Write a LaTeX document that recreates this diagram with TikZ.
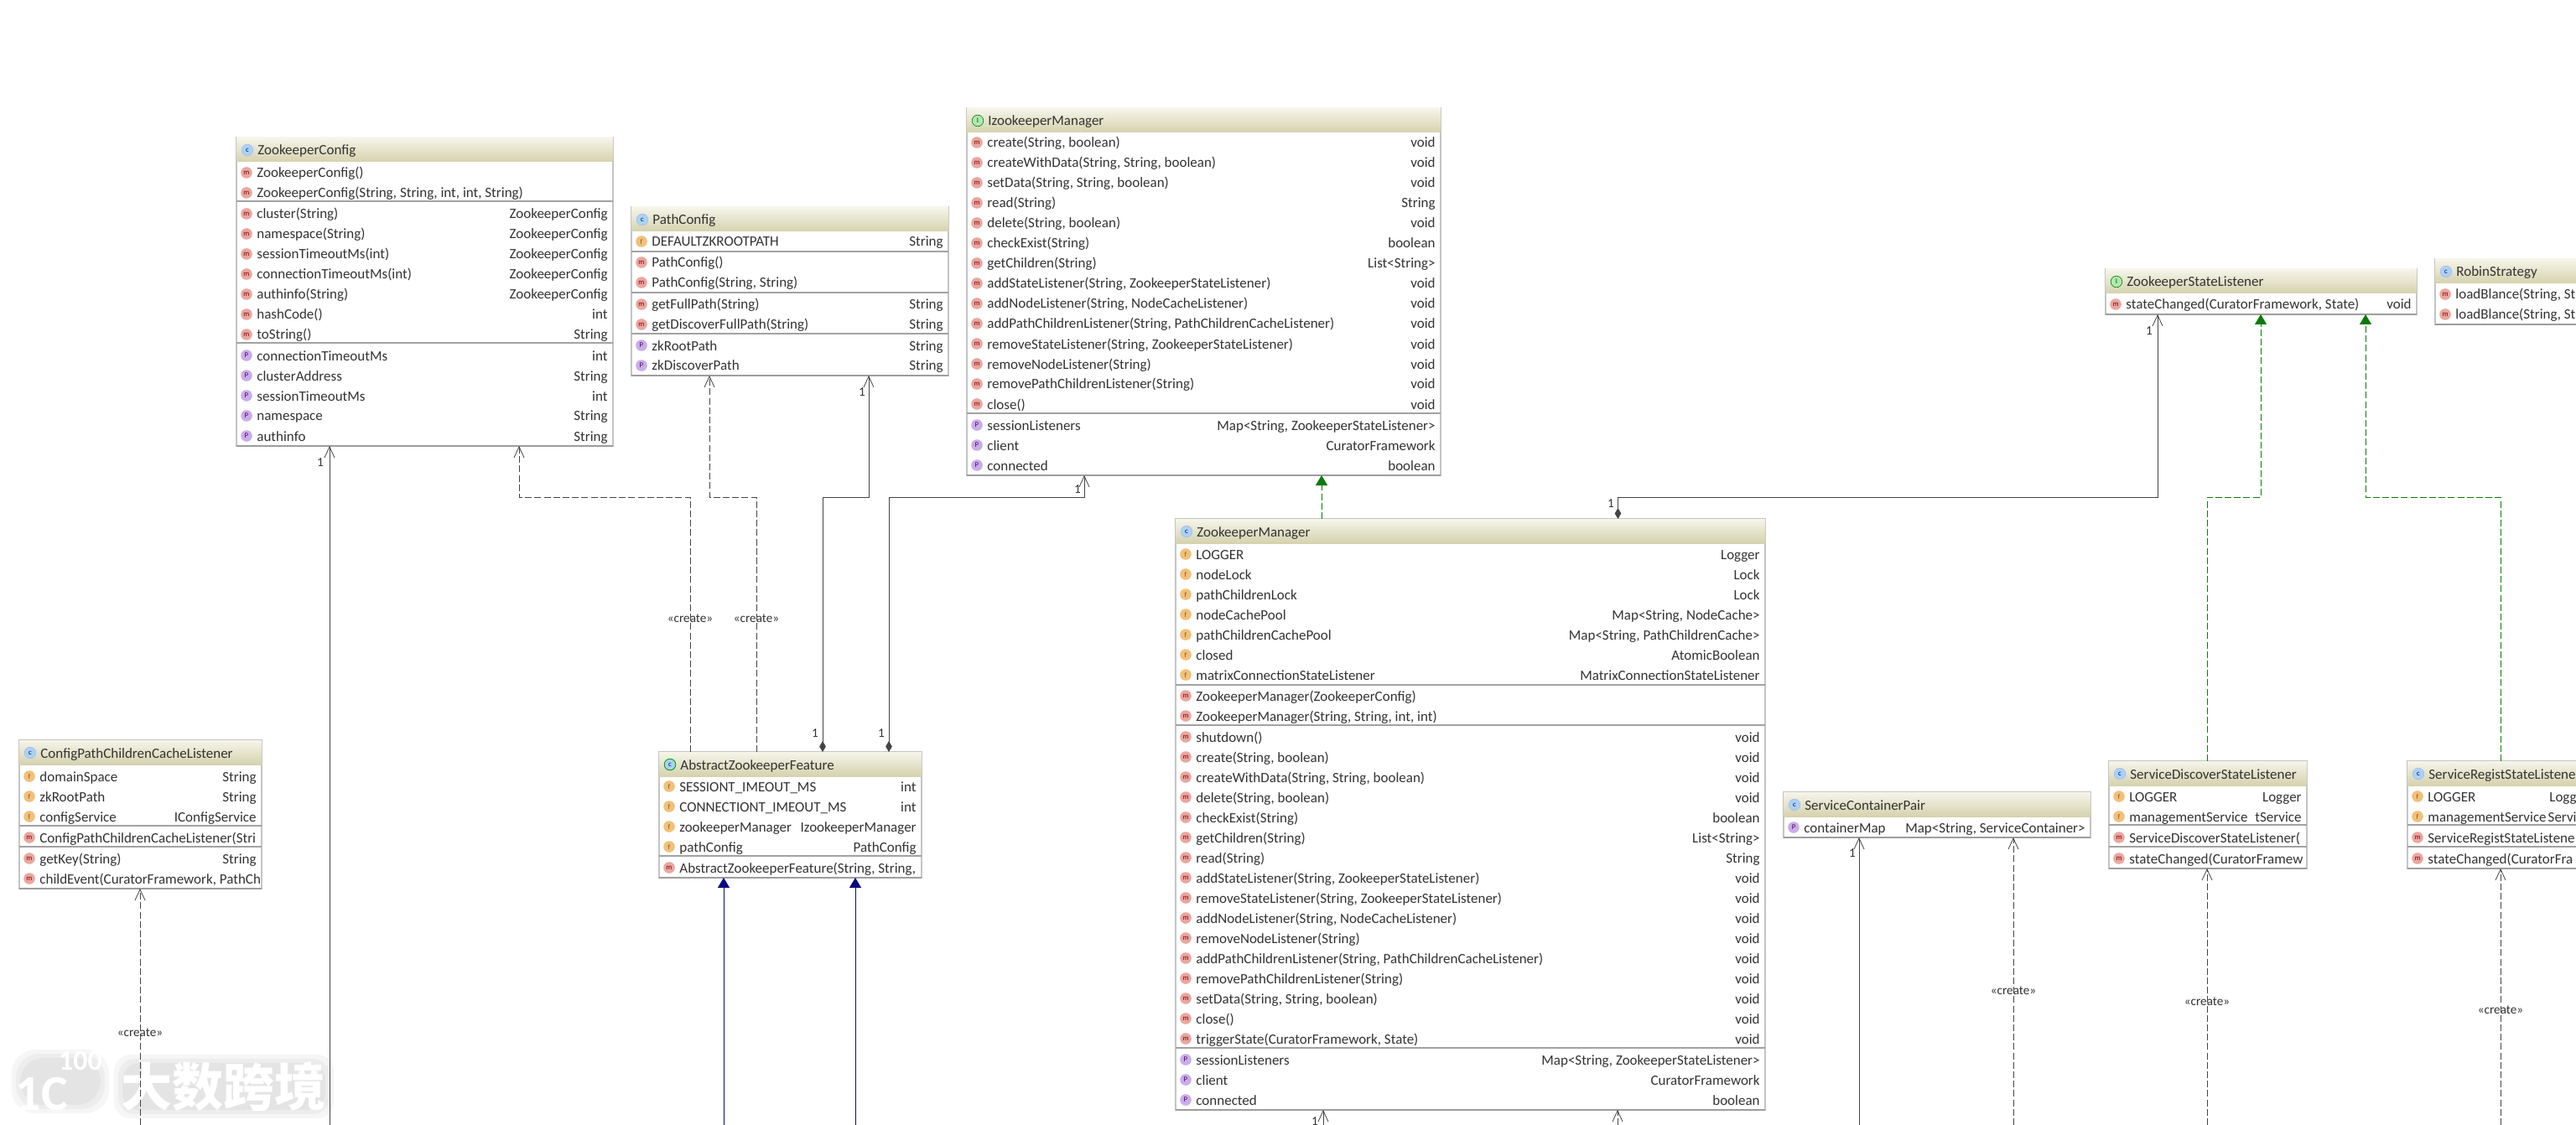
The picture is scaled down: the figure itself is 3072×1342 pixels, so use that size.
\documentclass[tikz,border=0pt]{standalone}
\usepackage{fontspec}
\setmainfont{Carlito}
\newfontfamily\cjkfont{Noto Sans CJK SC}
\usepackage{tikz}
\usetikzlibrary{arrows.meta,positioning,calc}
\definecolor{boxline}{HTML}{C4C4C4}
\definecolor{sepline}{HTML}{A2A2A2}
\definecolor{headtop}{HTML}{F6F5EA}
\definecolor{headbot}{HTML}{D5D2AE}
\definecolor{textgrey}{HTML}{333333}
\definecolor{linegrey}{HTML}{444444}
\definecolor{implgreen}{HTML}{0B7A0B}
\definecolor{extblue}{HTML}{0A0A80}
\definecolor{iconred}{HTML}{E9A7A0}
\definecolor{iconorange}{HTML}{F2C078}
\definecolor{iconpurple}{HTML}{C9ADEB}
\definecolor{iconblue}{HTML}{A8D4F0}
\definecolor{icongreen}{HTML}{B0E8B0}

% a class box with its title bar: name, x,y, w, h, icon style, letter, title
\newcommand{\umlclass}[8]{%
	\node[umlbox,minimum width=#4*0.5pt,minimum height=#5*0.5pt] (#1) at (#2,#3) {};
	\draw[umlshade] (#1.south west) -- (#1.south east);
	\node[umlhead,minimum width=#4*0.5pt] (#1head) at (#1.north west) {};
	\node[umlicon,#6] (#1icon) at ($(#1.north west)+(13,15)$) {#7};
	\node[umltitle] (#1title) at ($(#1.north west)+(25,21)$) {#8};
}
% one compartment: box, icon letter, offset of first row, rows
\newcommand{\umlrows}[4]{%
	\begin{scope}
		\clip (#1.north west) rectangle (#1.south east);
		\foreach \lab/\typ [count=\n from 0] in {#4}{
			\node[umlicon,icon#2] (#1#2#3i\n) at ($(#1.north west)+(12,#3+24*\n)$) {#2};
			\node[umlname] (#1#2#3n\n) at ($(#1.north west)+(24,#3+6+24*\n)$) {\lab};
			\node[umltype] (#1#2#3t\n) at ($(#1.north east)+(-6,#3+6+24*\n)$) {\typ};
		}
	\end{scope}
}
\newcommand{\umlsep}[2]{\draw[umlsepline] ($(#1.north west)+(0,#2)$) -- ($(#1.north east)+(0,#2)$);}

\begin{document}
\begin{tikzpicture}[
	x=0.5pt,y=-0.5pt,
	font=\fontsize{8.5pt}{10pt}\selectfont,
	umlbox/.style={draw=boxline,line width=0.7pt,fill=white,anchor=north west,inner sep=0,outer sep=0},
	umlshade/.style={draw=boxline!80!black,line width=0.9pt},
	umlhead/.style={anchor=north west,inner sep=0,outer sep=0,minimum height=14.5pt,top color=headtop,bottom color=headbot},
	umltitle/.style={anchor=base west,inner sep=0,text=textgrey},
	umlname/.style={anchor=base west,inner sep=0,text=textgrey},
	umltype/.style={anchor=base east,inner sep=0,text=textgrey},
	umlsepline/.style={draw=sepline,line width=0.6pt},
	umlicon/.style={circle,inner sep=0,minimum size=6.8pt,font=\fontsize{4.4pt}{4.4pt}\selectfont},
	iconm/.style={fill=iconred,text=red!50!black},
	iconf/.style={fill=iconorange,text=brown!70!black},
	iconP/.style={fill=iconpurple,text=violet!70!black},
	iconc/.style={fill=iconblue,draw=blue!30!white,line width=0.3pt,text=blue!50!black},
	iconA/.style={fill=iconblue,draw=green!60!black,line width=0.4pt,text=blue!50!black},
	iconI/.style={fill=icongreen,draw=green!50!black,line width=0.3pt,text=green!30!black},
	assoc/.style={-{Straight Barb[length=6.5pt,width=6pt]},linegrey,line width=0.4pt},
	depend/.style={-{Straight Barb[length=6.5pt,width=6pt]},linegrey,line width=0.4pt,dash pattern=on 4pt off 1.6pt},
	owned/.style={{Diamond[length=6.5pt,width=3.8pt,fill=linegrey]}-{Straight Barb[length=6.5pt,width=6pt]},linegrey,line width=0.4pt},
	impl/.style={-{Triangle[length=6pt,width=7pt]},implgreen,line width=0.45pt,dash pattern=on 4pt off 1.6pt},
	extend/.style={-{Triangle[length=6pt,width=7pt]},extblue,line width=0.45pt},
	mult/.style={inner sep=0,text=textgrey,font=\fontsize{7.6pt}{8pt}\selectfont},
	stereo/.style={inner sep=0,text=textgrey,font=\fontsize{7.6pt}{8pt}\selectfont},
	wmark/.style={inner sep=0,text=white}
	]
	\useasboundingbox[fill=white] (0,0) rectangle (3072,1342);

	% watermark, under the lines
	\foreach \g in {0,5,10}{
		\fill[black,opacity=0.035,rounded corners=10pt] (146-\g,1268-\g) rectangle (388+\g,1324+\g);
		\fill[black,opacity=0.035,rounded corners=14pt] (24-\g,1262-\g) rectangle (120+\g,1318+\g);
	}
	\node[wmark,font=\fontsize{30pt}{30pt}\selectfont\bfseries] (wmlogo) at (50,1305) {1C};
	\node[wmark,font=\fontsize{17pt}{17pt}\selectfont\bfseries] (wmhundred) at (96,1265) {100};
	\node[wmark,font=\fontsize{30.5pt}{30.5pt}\selectfont\cjkfont\bfseries] (wmtext) at (266,1296) {大数跨境};

	% classes, top row
	\umlclass{zkconfig}{282}{164}{449}{368}{iconc}{c}{ZookeeperConfig}
	\umlrows{zkconfig}{m}{42}{{ZookeeperConfig()}/{},{ZookeeperConfig(String, String, int, int, String)}/{}}
	\umlsep{zkconfig}{76}
	\umlrows{zkconfig}{m}{91}{{cluster(String)}/ZookeeperConfig,{namespace(String)}/ZookeeperConfig,{sessionTimeoutMs(int)}/ZookeeperConfig,{connectionTimeoutMs(int)}/ZookeeperConfig,{authinfo(String)}/ZookeeperConfig,{hashCode()}/int,{toString()}/String}
	\umlsep{zkconfig}{245}
	\umlrows{zkconfig}{P}{260}{connectionTimeoutMs/int,clusterAddress/String,sessionTimeoutMs/int,namespace/String,authinfo/String}

	\umlclass{pathcfg}{753}{247}{378}{201}{iconc}{c}{PathConfig}
	\umlrows{pathcfg}{f}{41}{DEFAULTZKROOTPATH/String}
	\umlsep{pathcfg}{53}
	\umlrows{pathcfg}{m}{66}{{PathConfig()}/{},{PathConfig(String, String)}/{}}
	\umlsep{pathcfg}{102}
	\umlrows{pathcfg}{m}{116}{{getFullPath(String)}/String,{getDiscoverFullPath(String)}/String}
	\umlsep{pathcfg}{151}
	\umlrows{pathcfg}{P}{165}{zkRootPath/String,zkDiscoverPath/String}

	\umlclass{izkmgr}{1153}{129}{565}{438}{iconI}{I}{IzookeeperManager}
	\umlrows{izkmgr}{m}{41}{{create(String, boolean)}/void,{createWithData(String, String, boolean)}/void,{setData(String, String, boolean)}/void,{read(String)}/String,{delete(String, boolean)}/void,{checkExist(String)}/boolean,{getChildren(String)}/{List<String>},{addStateListener(String, ZookeeperStateListener)}/void,{addNodeListener(String, NodeCacheListener)}/void,{addPathChildrenListener(String, PathChildrenCacheListener)}/void,{removeStateListener(String, ZookeeperStateListener)}/void,{removeNodeListener(String)}/void,{removePathChildrenListener(String)}/void,{close()}/void}
	\umlsep{izkmgr}{364}
	\umlrows{izkmgr}{P}{378}{sessionListeners/{Map<String, ZookeeperStateListener>},client/CuratorFramework,connected/boolean}

	\umlclass{zklistener}{2511}{321}{371}{54}{iconI}{I}{ZookeeperStateListener}
	\umlrows{zklistener}{m}{42}{{stateChanged(CuratorFramework, State)}/void}

	\umlclass{robin}{2904}{309}{175}{78}{iconc}{c}{RobinStrategy}
	\umlrows{robin}{m}{42}{{loadBlance(String, St}/{},{loadBlance(String, St}/{}}

	% classes, lower row
	\umlclass{cfgpath}{23}{883}{289}{177}{iconc}{c}{ConfigPathChildrenCacheListener}
	\umlrows{cfgpath}{f}{43}{domainSpace/String,zkRootPath/String,configService/IConfigService}
	\umlsep{cfgpath}{102}
	\umlrows{cfgpath}{m}{116}{{ConfigPathChildrenCacheListener(Stri}/{}}
	\umlsep{cfgpath}{127}
	\umlrows{cfgpath}{m}{141}{{getKey(String)}/String,{childEvent(CuratorFramework, PathCh}/{}}

	\umlclass{absfeat}{786}{897}{313}{150}{iconA}{c}{AbstractZookeeperFeature}
	\umlrows{absfeat}{f}{41}{SESSIONT\_IMEOUT\_MS/int,CONNECTIONT\_IMEOUT\_MS/int,zookeeperManager/IzookeeperManager,pathConfig/PathConfig}
	\umlsep{absfeat}{124}
	\umlrows{absfeat}{m}{138}{{AbstractZookeeperFeature(String, String,}/{}}

	\umlclass{zkmgr}{1402}{619}{703}{705}{iconc}{c}{ZookeeperManager}
	\umlrows{zkmgr}{f}{42}{LOGGER/Logger,nodeLock/Lock,pathChildrenLock/Lock,nodeCachePool/{Map<String, NodeCache>},pathChildrenCachePool/{Map<String, PathChildrenCache>},closed/AtomicBoolean,matrixConnectionStateListener/MatrixConnectionStateListener}
	\umlsep{zkmgr}{198}
	\umlrows{zkmgr}{m}{211}{{ZookeeperManager(ZookeeperConfig)}/{},{ZookeeperManager(String, String, int, int)}/{}}
	\umlsep{zkmgr}{246}
	\umlrows{zkmgr}{m}{260}{{shutdown()}/void,{create(String, boolean)}/void,{createWithData(String, String, boolean)}/void,{delete(String, boolean)}/void,{checkExist(String)}/boolean,{getChildren(String)}/{List<String>},{read(String)}/String,{addStateListener(String, ZookeeperStateListener)}/void,{removeStateListener(String, ZookeeperStateListener)}/void,{addNodeListener(String, NodeCacheListener)}/void,{removeNodeListener(String)}/void,{addPathChildrenListener(String, PathChildrenCacheListener)}/void,{removePathChildrenListener(String)}/void,{setData(String, String, boolean)}/void,{close()}/void,{triggerState(CuratorFramework, State)}/void}
	\umlsep{zkmgr}{631}
	\umlrows{zkmgr}{P}{645}{sessionListeners/{Map<String, ZookeeperStateListener>},client/CuratorFramework,connected/boolean}

	\umlclass{scpair}{2127}{945}{366}{54}{iconc}{c}{ServiceContainerPair}
	\umlrows{scpair}{P}{42}{containerMap/{Map<String, ServiceContainer>}}

	\umlclass{discover}{2515}{908}{236}{128}{iconc}{c}{ServiceDiscoverStateListener}
	\umlrows{discover}{f}{42}{LOGGER/Logger,managementService/tService}
	\umlsep{discover}{76}
	\umlrows{discover}{m}{91}{{ServiceDiscoverStateListener(}/{}}
	\umlsep{discover}{102}
	\umlrows{discover}{m}{116}{{stateChanged(CuratorFramew}/{}}

	\umlclass{regist}{2871}{908}{208}{128}{iconc}{c}{ServiceRegistStateListene}
	\umlrows{regist}{f}{42}{LOGGER/Logg,managementService/Servi}
	\umlsep{regist}{76}
	\umlrows{regist}{m}{91}{{ServiceRegistStateListene}/{}}
	\umlsep{regist}{102}
	\umlrows{regist}{m}{116}{{stateChanged(CuratorFra}/{}}

	% free ends at the page edge
	\coordinate (cfgend) at (393,1342);
	\coordinate (cfgpathend) at (167,1342);
	\coordinate (feat1end) at (863,1342);
	\coordinate (feat2end) at (1020,1342);
	\coordinate (mgr1end) at (1578,1342);
	\coordinate (mgr2end) at (1929,1342);
	\coordinate (pair1end) at (2217,1342);
	\coordinate (pair2end) at (2401,1342);
	\coordinate (disc1end) at (2632,1342);
	\coordinate (reg1end) at (2982,1342);

	\draw[assoc] (cfgend) -- ([xshift=55.5pt]zkconfig.south west);
	\draw[depend] ([xshift=18.5pt]absfeat.north west) -- ++(0,-304) -| ([xshift=168.5pt]zkconfig.south west);
	\draw[depend] ([xshift=58pt]absfeat.north west) -- ++(0,-304) -| ([xshift=46.5pt]pathcfg.south west);
	\draw[owned] ([xshift=97.5pt]absfeat.north west) -- ++(0,-304) -| ([xshift=141.5pt]pathcfg.south west);
	\draw[owned] ([xshift=137pt]absfeat.north west) -- ++(0,-304) -| ([xshift=70pt]izkmgr.south west);
	\draw[impl] ([xshift=87pt]zkmgr.north west) -- ([xshift=211.5pt]izkmgr.south west);
	\draw[owned] ([xshift=263.75pt]zkmgr.north west) -- ++(0,-26) -| ([xshift=31pt]zklistener.south west);
	\draw[impl] ([xshift=58.5pt]discover.north west) -- ++(0,-315) -| ([xshift=92.5pt]zklistener.south west);
	\draw[impl] ([xshift=55.5pt]regist.north west) -- ++(0,-315) -| ([xshift=155pt]zklistener.south west);
	\draw[depend] (cfgpathend) -- ([xshift=72pt]cfgpath.south west);
	\draw[extend] (feat1end) -- ([xshift=38.5pt]absfeat.south west);
	\draw[extend] (feat2end) -- ([xshift=117pt]absfeat.south west);
	\draw[assoc] (mgr1end) -- ([xshift=88pt]zkmgr.south west);
	\draw[depend] (mgr2end) -- ([xshift=263.5pt]zkmgr.south west);
	\draw[assoc] (pair1end) -- ([xshift=45pt]scpair.south west);
	\draw[depend] (pair2end) -- ([xshift=137pt]scpair.south west);
	\draw[depend] (disc1end) -- ([xshift=58.5pt]discover.south west);
	\draw[depend] (reg1end) -- ([xshift=55.5pt]regist.south west);

	\foreach \x/\y [count=\n] in {382/552,1028/468,1285/584,972/875,1051/875,1921/601,2563/395,1568/1338,2209/1018}
		\node[mult] (one\n) at (\x,\y) {1};
	\foreach \x/\y [count=\n] in {823/738,902/738,167/1232,2401/1182,2632/1195,2982/1205}
		\node[stereo] (create\n) at (\x,\y) {«create»};
\end{tikzpicture}
\end{document}
